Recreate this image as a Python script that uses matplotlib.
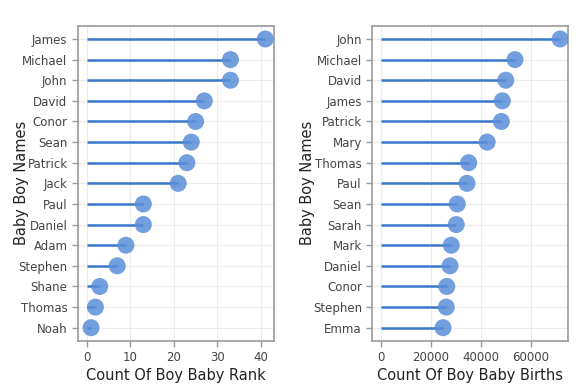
import matplotlib
matplotlib.use("Agg")
import matplotlib.pyplot as plt

rank_names = ["James", "Michael", "John", "David", "Conor", "Sean", "Patrick", "Jack",
              "Paul", "Daniel", "Adam", "Stephen", "Shane", "Thomas", "Noah"]
rank_values = [41, 33, 33, 27, 25, 24, 23, 21, 13, 13, 9, 7, 3, 2, 1]

birth_names = ["John", "Michael", "David", "James", "Patrick", "Mary", "Thomas", "Paul",
               "Sean", "Sarah", "Mark", "Daniel", "Conor", "Stephen", "Emma"]
birth_values = [71800, 53700, 50000, 48600, 48200, 42500, 35100, 34400,
                30500, 30100, 28100, 27600, 26300, 26100, 24800]

LINE_C = "#3a76c9"
DOT_C = "#5a8ed9"
TXT_C = "#444444"
FRAME_C = "#9a9a9a"

plt.rcParams["font.family"] = ["DejaVu Sans"]

fig = plt.figure(figsize=(5.76, 3.84), dpi=100)
ax1 = fig.add_axes([0.1354, 0.1128, 0.3403, 0.8195])
ax2 = fig.add_axes([0.6464, 0.1128, 0.3398, 0.8195])

def draw(ax, names, values, xlim, xticks, xlabel, ylab_x):
    y = list(range(len(names)))
    ax.hlines(y, 0, values, color=LINE_C, lw=1.8, zorder=2)
    ax.scatter(values, y, s=150, color=DOT_C, alpha=0.85, edgecolors="none", zorder=3)
    ax.set_yticks(y)
    ax.set_yticklabels(names)
    ax.set_ylim(len(names) - 1 + 0.63, -0.63)
    ax.set_xlim(*xlim)
    ax.set_xticks(xticks)
    ax.grid(True, color="#ececec", lw=0.8, zorder=0)
    ax.set_axisbelow(True)
    for s in ax.spines.values():
        s.set_color(FRAME_C)
        s.set_linewidth(1.2)
    ax.tick_params(axis="both", colors=FRAME_C, labelcolor=TXT_C, labelsize=8.5,
                   length=4, width=1)
    ax.set_xlabel(xlabel, fontsize=10.5, color="#222222")
    ax.xaxis.set_label_coords(0.5, -0.112)
    ax.xaxis.label.set_va("center")
    ax.set_ylabel("Baby Boy Names", fontsize=10.5, color="#222222")
    ax.yaxis.set_label_coords(ylab_x, 0.5)
    ax.yaxis.label.set_va("center")

draw(ax1, rank_names, rank_values, (-2, 43), [0, 10, 20, 30, 40],
     "Count Of Boy Baby Rank", -0.286)
draw(ax2, birth_names, birth_values, (-3600, 75000), [0, 20000, 40000, 60000],
     "Count Of Boy Baby Births", -0.331)

fig.savefig("out.png", dpi=100)
